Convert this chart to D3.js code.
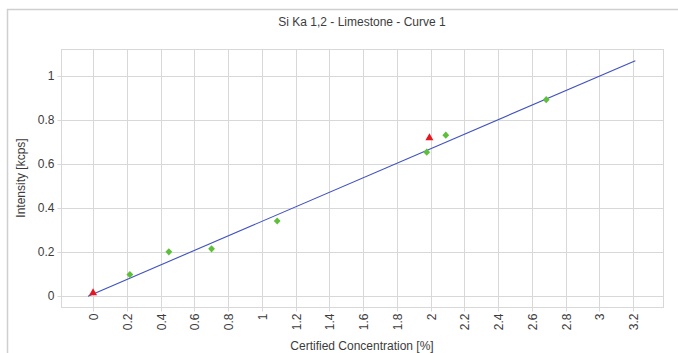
<!DOCTYPE html>
<html>
<head>
<meta charset="utf-8">
<script src="https://cdn.jsdelivr.net/npm/d3@7"></script>
<style>
  html, body { margin: 0; padding: 0; background: #fff; }
  svg { display: block; font-family: "Liberation Sans", Arial, sans-serif; }
</style>
</head>
<body>
<svg id="chart" width="678" height="353"></svg>
<script>
// Calibration standards (certified concentration %, measured intensity kcps)
const standardsX = [0.218, 0.449, 0.702, 1.091, 1.977, 2.090, 2.685];
const standardsY = [0.098, 0.201, 0.215, 0.341, 0.653, 0.730, 0.891];

// Samples flagged as outliers
const outliersX = [0.0, 1.993];
const outliersY = [0.018, 0.721];

// Fitted calibration curve end points
const curveX = [-0.03, 3.213];
const curveY = [0.0, 1.068];

const xTicks = [0, 0.2, 0.4, 0.6, 0.8, 1, 1.2, 1.4, 1.6, 1.8, 2, 2.2, 2.4, 2.6, 2.8, 3, 3.2];
const yTicks = [0, 0.2, 0.4, 0.6, 0.8, 1];

const titleText = "Si Ka 1,2 - Limestone - Curve 1";
const xTitle = "Certified Concentration [%]";
const yTitle = "Intensity [kcps]";

const svg = d3.select("#chart");
const plot = { left: 61, top: 49, right: 663, bottom: 307 };

const x = d3.scaleLinear().domain([-0.19, 3.377]).range([plot.left, plot.right]);
const y = d3.scaleLinear().domain([-0.049, 1.121]).range([plot.bottom, plot.top]);

const textColor = "#3c3c3c";
const gridColor = "#d8d8d8";

// outer frame
svg.append("rect")
  .attr("x", 7.5).attr("y", 9.5).attr("width", 690).attr("height", 360)
  .attr("fill", "none").attr("stroke", "#cfcfcf").attr("stroke-width", 1.5);

// title
svg.append("text")
  .attr("x", (plot.left + plot.right) / 2).attr("y", 26)
  .attr("text-anchor", "middle").attr("font-size", 12).attr("fill", textColor)
  .text(titleText);

// plot border
svg.append("rect")
  .attr("x", plot.left + 0.5).attr("y", plot.top + 0.5)
  .attr("width", plot.right - plot.left).attr("height", plot.bottom - plot.top)
  .attr("fill", "none").attr("stroke", gridColor).attr("stroke-width", 1);

// x axis: gridlines, ticks and rotated labels
const xAxis = d3.axisBottom(x).tickValues(xTicks).tickSize(4).tickFormat(d3.format("~g"));
const gx = svg.append("g").attr("transform", `translate(0,${plot.bottom + 0.5})`).call(xAxis);
gx.select(".domain").remove();
gx.selectAll(".tick line").attr("stroke", gridColor)
  .attr("y1", -(plot.bottom - plot.top)).attr("y2", 4);
gx.selectAll(".tick text")
  .attr("fill", textColor).attr("font-size", 12)
  .attr("text-anchor", "end")
  .attr("transform", "translate(0,6) rotate(-90)")
  .attr("x", 0).attr("y", 0).attr("dy", "0.35em");
gx.selectAll(".tick").attr("transform", d => `translate(${Math.round(x(d)) + 0.5},0)`);

// y axis: gridlines, ticks and labels
const yAxis = d3.axisLeft(y).tickValues(yTicks).tickSize(4).tickFormat(d3.format("~g"));
const gy = svg.append("g").attr("transform", `translate(${plot.left + 0.5},0)`).call(yAxis);
gy.select(".domain").remove();
gy.selectAll(".tick line").attr("stroke", gridColor)
  .attr("x1", plot.right - plot.left).attr("x2", -4);
gy.selectAll(".tick text")
  .attr("fill", textColor).attr("font-size", 12).attr("x", -7);
gy.selectAll(".tick").attr("transform", d => `translate(0,${Math.round(y(d)) + 0.5})`);

// axis titles
svg.append("text")
  .attr("x", (plot.left + plot.right) / 2).attr("y", 350)
  .attr("text-anchor", "middle").attr("font-size", 12).attr("fill", textColor)
  .text(xTitle);
svg.append("text")
  .attr("transform", `translate(21,${(plot.top + plot.bottom) / 2}) rotate(-90)`)
  .attr("text-anchor", "middle").attr("dy", "0.35em")
  .attr("font-size", 12).attr("fill", textColor)
  .text(yTitle);

// calibration curve
svg.append("path")
  .datum(curveX.map((d, i) => [d, curveY[i]]))
  .attr("fill", "none").attr("stroke", "#3f51c0").attr("stroke-width", 1.1)
  .attr("d", d3.line().x(d => x(d[0])).y(d => y(d[1])));

// standards: green diamonds
svg.append("g").selectAll("path")
  .data(standardsX.map((d, i) => [d, standardsY[i]]))
  .join("path")
  .attr("transform", d => `translate(${x(d[0])},${y(d[1])})`)
  .attr("d", "M0,-3.6L3.4,0L0,3.6L-3.4,0Z")
  .attr("fill", "#5dbf3a");

// outliers: red triangles
svg.append("g").selectAll("path")
  .data(outliersX.map((d, i) => [d, outliersY[i]]))
  .join("path")
  .attr("transform", d => `translate(${x(d[0])},${y(d[1])})`)
  .attr("d", "M0,-4L4,3L-4,3Z")
  .attr("fill", "#e8161e");
</script>
</body>
</html>
